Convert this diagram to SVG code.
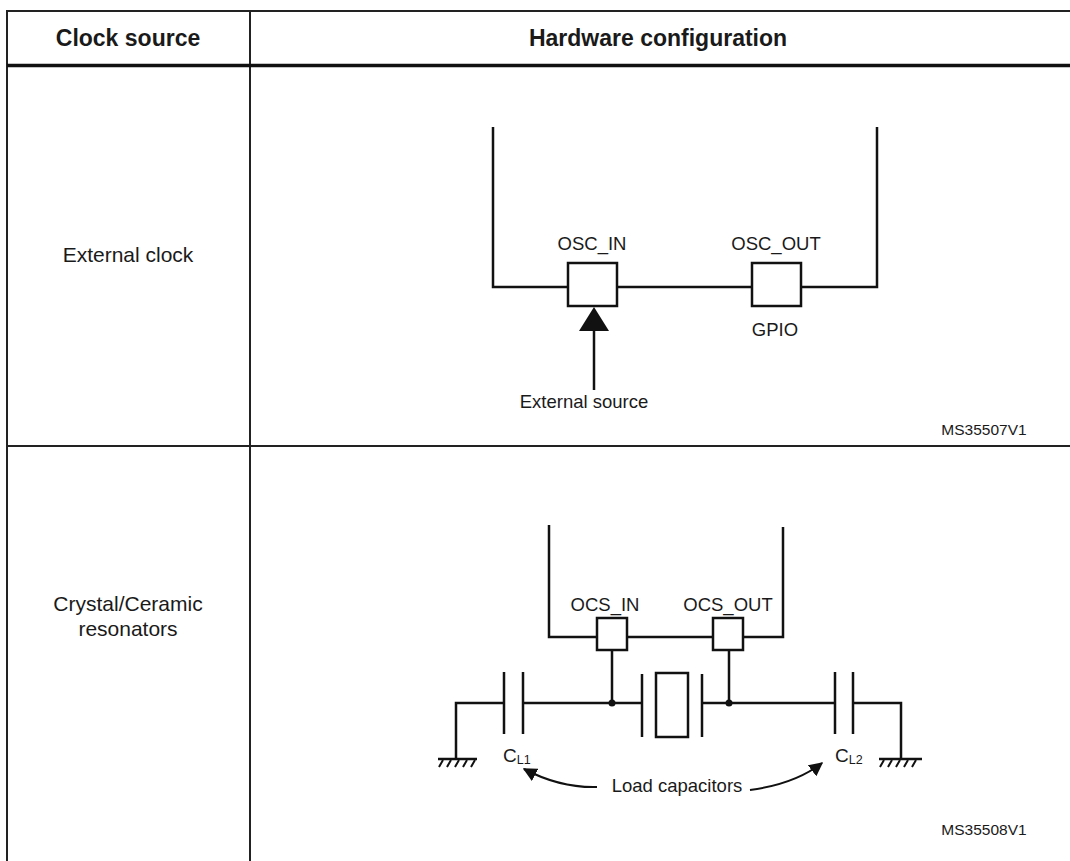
<svg xmlns="http://www.w3.org/2000/svg" width="1070" height="861" viewBox="0 0 1070 861">
<style>
text{font-family:"Liberation Sans",Arial,sans-serif;fill:#1a1a1a}
.hd{font-weight:bold;font-size:23px}
.cell{font-size:21px}
.lbl{font-size:18.5px}
.id{font-size:15.5px}
.sub{font-size:12.5px}
.tb{stroke:#222;stroke-width:2;fill:none}
.w{stroke:#111;stroke-width:2.5;fill:none}
.box{stroke:#111;stroke-width:2.5;fill:#fff}
.thin{stroke:#111;stroke-width:2;fill:none}
</style>
<defs>
<marker id="ah" viewBox="0 0 10 10" refX="9" refY="5" markerWidth="7" markerHeight="7" markerUnits="strokeWidth" orient="auto">
<path d="M0,0 L10,5 L0,10 z" fill="#111"/>
</marker>
</defs>
<rect width="1070" height="861" fill="#fff"/>
<g id="table">
<path class="tb" d="M7,861 V11 H1070 M250,11 V861 M7,446 H1070"/>
<path d="M7,65.5 H1070" stroke="#111" stroke-width="3.5"/>
<text class="hd" x="128" y="46" text-anchor="middle">Clock source</text>
<text class="hd" x="658" y="46" text-anchor="middle">Hardware configuration</text>
<text class="cell" x="128" y="262" text-anchor="middle">External clock</text>
<text class="cell" x="128" y="611" text-anchor="middle">Crystal/Ceramic</text>
<text class="cell" x="128" y="636" text-anchor="middle">resonators</text>
</g>
<g id="connectors">
<path class="w" d="M493,127 V287 H877 V127"/>
<path class="w" d="M594,390 V330"/>
<path class="w" d="M549,525 V637 H783 V527"/>
<path class="w" d="M612,651 V703 M729,651 V703"/>
<path class="w" d="M504,703 H456 V759 M523,703 H642 M702,703 H835 M853,703 H901 V759"/>
<path class="thin" d="M597,787 Q560,788 524,769" marker-end="url(#ah)"/>
<path class="thin" d="M750,790 Q795,784 822,763" marker-end="url(#ah)"/>
</g>
<g id="osc-in">
<rect class="box" x="568" y="263" width="49" height="43"/>
<text class="lbl" x="592" y="250" text-anchor="middle">OSC_IN</text>
</g>
<g id="osc-out">
<rect class="box" x="752" y="263" width="49" height="43"/>
<text class="lbl" x="776" y="250" text-anchor="middle">OSC_OUT</text>
<text class="lbl" x="775" y="336" text-anchor="middle">GPIO</text>
</g>
<g id="ext-source">
<polygon points="594,307 579,331 609,331" fill="#111"/>
<text class="lbl" x="584" y="408" text-anchor="middle">External source</text>
</g>
<text class="id" x="984" y="435" text-anchor="middle">MS35507V1</text>
<g id="ocs-in">
<rect class="box" x="597" y="618" width="30" height="32"/>
<text class="lbl" x="605" y="611" text-anchor="middle">OCS_IN</text>
</g>
<g id="ocs-out">
<rect class="box" x="713" y="618" width="30" height="32"/>
<text class="lbl" x="728" y="611" text-anchor="middle">OCS_OUT</text>
</g>
<g id="junctions">
<circle cx="612" cy="703" r="3.5" fill="#111"/>
<circle cx="729" cy="703" r="3.5" fill="#111"/>
</g>
<g id="cl1">
<path class="w" d="M504,672 V734 M523,672 V734"/>
<text x="503" y="762" font-size="19">C<tspan class="sub" dy="2">L1</tspan></text>
</g>
<g id="crystal">
<path class="w" d="M642,674 V737 M702,674 V737"/>
<rect class="w" x="656" y="673" width="32" height="64"/>
</g>
<g id="cl2">
<path class="w" d="M835,672 V734 M853,672 V734"/>
<text x="835" y="762" font-size="19">C<tspan class="sub" dy="2">L2</tspan></text>
</g>
<g id="gnd-left">
<path class="w" d="M438,759 H477"/>
<path class="thin" d="M443,760 L439,767 M451,760 L447,767 M459,760 L455,767 M467,760 L463,767 M475,760 L471,767"/>
</g>
<g id="gnd-right">
<path class="w" d="M879,759 H922"/>
<path class="thin" d="M884,760 L880,767 M892,760 L888,767 M900,760 L896,767 M908,760 L904,767 M916,760 L912,767"/>
</g>
<text class="lbl" x="677" y="792" text-anchor="middle">Load capacitors</text>
<text class="id" x="984" y="835" text-anchor="middle">MS35508V1</text>
</svg>
